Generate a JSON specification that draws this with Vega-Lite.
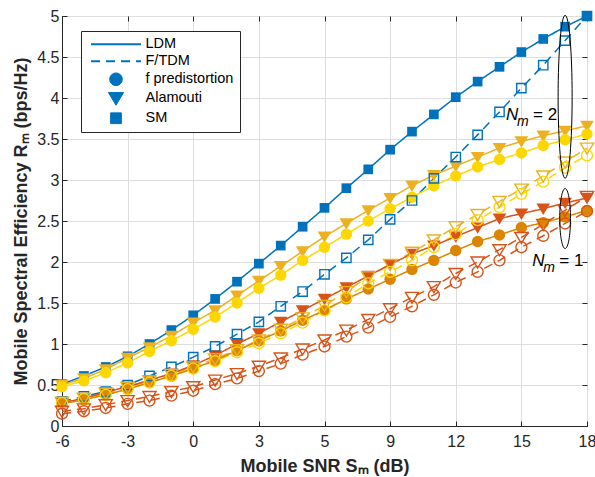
{
  "$schema": "https://vega.github.io/schema/vega-lite/v6.json",
  "width": 525,
  "height": 410,
  "autosize": {"type": "none"},
  "padding": {"left": 62, "top": 16, "right": 8, "bottom": 51},
  "background": "white",
  "config": {
    "font": "Liberation Sans",
    "view": {"stroke": "#262626", "strokeWidth": 1},
    "axis": {
      "labelFont": "Liberation Sans", "labelFontSize": 16, "labelColor": "#262626",
      "titleFont": "Liberation Sans", "titleFontSize": 18, "titleFontWeight": "bold", "titleColor": "#262626",
      "domainColor": "#262626", "tickColor": "#262626", "gridColor": "#dedede", "gridWidth": 1, "labelFlush": false
    }
  },
  "datasets": {
    "meta": [
      {"series": "LDM SM", "method": "LDM", "scheme": "SM"},
      {"series": "F/TDM SM", "method": "F/TDM", "scheme": "SM"},
      {"series": "LDM Alamouti Nm=2", "method": "LDM", "scheme": "Alamouti"},
      {"series": "LDM fpre Nm=2", "method": "LDM", "scheme": "f predistortion"},
      {"series": "F/TDM Alamouti Nm=2", "method": "F/TDM", "scheme": "Alamouti"},
      {"series": "F/TDM fpre Nm=2", "method": "F/TDM", "scheme": "f predistortion"},
      {"series": "LDM Alamouti Nm=1", "method": "LDM", "scheme": "Alamouti"},
      {"series": "LDM fpre Nm=1", "method": "LDM", "scheme": "f predistortion"},
      {"series": "F/TDM Alamouti Nm=1", "method": "F/TDM", "scheme": "Alamouti"},
      {"series": "F/TDM fpre Nm=1", "method": "F/TDM", "scheme": "f predistortion"}
    ],
    "vals": [
      {"snr": -6, "LDM SM": 0.51, "F/TDM SM": 0.30, "LDM Alamouti Nm=2": 0.50, "LDM fpre Nm=2": 0.48, "F/TDM Alamouti Nm=2": 0.29, "F/TDM fpre Nm=2": 0.28, "LDM Alamouti Nm=1": 0.28, "LDM fpre Nm=1": 0.27, "F/TDM Alamouti Nm=1": 0.18, "F/TDM fpre Nm=1": 0.15},
      {"snr": -5, "LDM SM": 0.61, "F/TDM SM": 0.36, "LDM Alamouti Nm=2": 0.58, "LDM fpre Nm=2": 0.55, "F/TDM Alamouti Nm=2": 0.34, "F/TDM fpre Nm=2": 0.33, "LDM Alamouti Nm=1": 0.34, "LDM fpre Nm=1": 0.32, "F/TDM Alamouti Nm=1": 0.21, "F/TDM fpre Nm=1": 0.18},
      {"snr": -4, "LDM SM": 0.72, "F/TDM SM": 0.42, "LDM Alamouti Nm=2": 0.69, "LDM fpre Nm=2": 0.65, "F/TDM Alamouti Nm=2": 0.40, "F/TDM fpre Nm=2": 0.38, "LDM Alamouti Nm=1": 0.41, "LDM fpre Nm=1": 0.38, "F/TDM Alamouti Nm=1": 0.26, "F/TDM fpre Nm=1": 0.22},
      {"snr": -3, "LDM SM": 0.85, "F/TDM SM": 0.50, "LDM Alamouti Nm=2": 0.83, "LDM fpre Nm=2": 0.77, "F/TDM Alamouti Nm=2": 0.47, "F/TDM fpre Nm=2": 0.45, "LDM Alamouti Nm=1": 0.48, "LDM fpre Nm=1": 0.45, "F/TDM Alamouti Nm=1": 0.31, "F/TDM fpre Nm=1": 0.27},
      {"snr": -2, "LDM SM": 1.00, "F/TDM SM": 0.61, "LDM Alamouti Nm=2": 0.96, "LDM fpre Nm=2": 0.91, "F/TDM Alamouti Nm=2": 0.55, "F/TDM fpre Nm=2": 0.53, "LDM Alamouti Nm=1": 0.56, "LDM fpre Nm=1": 0.53, "F/TDM Alamouti Nm=1": 0.36, "F/TDM fpre Nm=1": 0.31},
      {"snr": -1, "LDM SM": 1.17, "F/TDM SM": 0.72, "LDM Alamouti Nm=2": 1.10, "LDM fpre Nm=2": 1.04, "F/TDM Alamouti Nm=2": 0.63, "F/TDM fpre Nm=2": 0.61, "LDM Alamouti Nm=1": 0.64, "LDM fpre Nm=1": 0.61, "F/TDM Alamouti Nm=1": 0.42, "F/TDM fpre Nm=1": 0.37},
      {"snr": 0, "LDM SM": 1.35, "F/TDM SM": 0.84, "LDM Alamouti Nm=2": 1.26, "LDM fpre Nm=2": 1.18, "F/TDM Alamouti Nm=2": 0.72, "F/TDM fpre Nm=2": 0.70, "LDM Alamouti Nm=1": 0.74, "LDM fpre Nm=1": 0.70, "F/TDM Alamouti Nm=1": 0.48, "F/TDM fpre Nm=1": 0.43},
      {"snr": 1, "LDM SM": 1.55, "F/TDM SM": 0.97, "LDM Alamouti Nm=2": 1.41, "LDM fpre Nm=2": 1.33, "F/TDM Alamouti Nm=2": 0.82, "F/TDM fpre Nm=2": 0.79, "LDM Alamouti Nm=1": 0.86, "LDM fpre Nm=1": 0.80, "F/TDM Alamouti Nm=1": 0.56, "F/TDM fpre Nm=1": 0.51},
      {"snr": 2, "LDM SM": 1.76, "F/TDM SM": 1.12, "LDM Alamouti Nm=2": 1.59, "LDM fpre Nm=2": 1.50, "F/TDM Alamouti Nm=2": 0.93, "F/TDM fpre Nm=2": 0.90, "LDM Alamouti Nm=1": 1.00, "LDM fpre Nm=1": 0.92, "F/TDM Alamouti Nm=1": 0.64, "F/TDM fpre Nm=1": 0.58},
      {"snr": 3, "LDM SM": 1.98, "F/TDM SM": 1.27, "LDM Alamouti Nm=2": 1.77, "LDM fpre Nm=2": 1.68, "F/TDM Alamouti Nm=2": 1.05, "F/TDM fpre Nm=2": 1.01, "LDM Alamouti Nm=1": 1.13, "LDM fpre Nm=1": 1.04, "F/TDM Alamouti Nm=1": 0.73, "F/TDM fpre Nm=1": 0.67},
      {"snr": 4, "LDM SM": 2.20, "F/TDM SM": 1.46, "LDM Alamouti Nm=2": 1.95, "LDM fpre Nm=2": 1.84, "F/TDM Alamouti Nm=2": 1.18, "F/TDM fpre Nm=2": 1.13, "LDM Alamouti Nm=1": 1.27, "LDM fpre Nm=1": 1.16, "F/TDM Alamouti Nm=1": 0.83, "F/TDM fpre Nm=1": 0.76},
      {"snr": 5, "LDM SM": 2.43, "F/TDM SM": 1.64, "LDM Alamouti Nm=2": 2.13, "LDM fpre Nm=2": 2.02, "F/TDM Alamouti Nm=2": 1.32, "F/TDM fpre Nm=2": 1.26, "LDM Alamouti Nm=1": 1.41, "LDM fpre Nm=1": 1.29, "F/TDM Alamouti Nm=1": 0.94, "F/TDM fpre Nm=1": 0.87},
      {"snr": 6, "LDM SM": 2.66, "F/TDM SM": 1.85, "LDM Alamouti Nm=2": 2.31, "LDM fpre Nm=2": 2.18, "F/TDM Alamouti Nm=2": 1.47, "F/TDM fpre Nm=2": 1.41, "LDM Alamouti Nm=1": 1.55, "LDM fpre Nm=1": 1.41, "F/TDM Alamouti Nm=1": 1.05, "F/TDM fpre Nm=1": 0.97},
      {"snr": 7, "LDM SM": 2.90, "F/TDM SM": 2.05, "LDM Alamouti Nm=2": 2.47, "LDM fpre Nm=2": 2.34, "F/TDM Alamouti Nm=2": 1.64, "F/TDM fpre Nm=2": 1.57, "LDM Alamouti Nm=1": 1.69, "LDM fpre Nm=1": 1.55, "F/TDM Alamouti Nm=1": 1.17, "F/TDM fpre Nm=1": 1.09},
      {"snr": 8, "LDM SM": 3.13, "F/TDM SM": 2.27, "LDM Alamouti Nm=2": 2.63, "LDM fpre Nm=2": 2.50, "F/TDM Alamouti Nm=2": 1.82, "F/TDM fpre Nm=2": 1.74, "LDM Alamouti Nm=1": 1.83, "LDM fpre Nm=1": 1.67, "F/TDM Alamouti Nm=1": 1.30, "F/TDM fpre Nm=1": 1.20},
      {"snr": 9, "LDM SM": 3.37, "F/TDM SM": 2.52, "LDM Alamouti Nm=2": 2.78, "LDM fpre Nm=2": 2.65, "F/TDM Alamouti Nm=2": 1.97, "F/TDM fpre Nm=2": 1.88, "LDM Alamouti Nm=1": 1.97, "LDM fpre Nm=1": 1.79, "F/TDM Alamouti Nm=1": 1.43, "F/TDM fpre Nm=1": 1.33},
      {"snr": 10, "LDM SM": 3.59, "F/TDM SM": 2.75, "LDM Alamouti Nm=2": 2.93, "LDM fpre Nm=2": 2.79, "F/TDM Alamouti Nm=2": 2.12, "F/TDM fpre Nm=2": 2.02, "LDM Alamouti Nm=1": 2.10, "LDM fpre Nm=1": 1.91, "F/TDM Alamouti Nm=1": 1.57, "F/TDM fpre Nm=1": 1.46},
      {"snr": 11, "LDM SM": 3.80, "F/TDM SM": 3.02, "LDM Alamouti Nm=2": 3.06, "LDM fpre Nm=2": 2.93, "F/TDM Alamouti Nm=2": 2.27, "F/TDM fpre Nm=2": 2.18, "LDM Alamouti Nm=1": 2.20, "LDM fpre Nm=1": 2.02, "F/TDM Alamouti Nm=1": 1.70, "F/TDM fpre Nm=1": 1.60},
      {"snr": 12, "LDM SM": 4.01, "F/TDM SM": 3.28, "LDM Alamouti Nm=2": 3.17, "LDM fpre Nm=2": 3.05, "F/TDM Alamouti Nm=2": 2.43, "F/TDM fpre Nm=2": 2.34, "LDM Alamouti Nm=1": 2.31, "LDM fpre Nm=1": 2.14, "F/TDM Alamouti Nm=1": 1.86, "F/TDM fpre Nm=1": 1.75},
      {"snr": 13, "LDM SM": 4.20, "F/TDM SM": 3.55, "LDM Alamouti Nm=2": 3.28, "LDM fpre Nm=2": 3.16, "F/TDM Alamouti Nm=2": 2.58, "F/TDM fpre Nm=2": 2.51, "LDM Alamouti Nm=1": 2.42, "LDM fpre Nm=1": 2.25, "F/TDM Alamouti Nm=1": 2.00, "F/TDM fpre Nm=1": 1.88},
      {"snr": 14, "LDM SM": 4.38, "F/TDM SM": 3.83, "LDM Alamouti Nm=2": 3.39, "LDM fpre Nm=2": 3.25, "F/TDM Alamouti Nm=2": 2.74, "F/TDM fpre Nm=2": 2.67, "LDM Alamouti Nm=1": 2.53, "LDM fpre Nm=1": 2.33, "F/TDM Alamouti Nm=1": 2.15, "F/TDM fpre Nm=1": 2.02},
      {"snr": 15, "LDM SM": 4.56, "F/TDM SM": 4.12, "LDM Alamouti Nm=2": 3.47, "LDM fpre Nm=2": 3.33, "F/TDM Alamouti Nm=2": 2.89, "F/TDM fpre Nm=2": 2.83, "LDM Alamouti Nm=1": 2.59, "LDM fpre Nm=1": 2.42, "F/TDM Alamouti Nm=1": 2.30, "F/TDM fpre Nm=1": 2.18},
      {"snr": 16, "LDM SM": 4.72, "F/TDM SM": 4.40, "LDM Alamouti Nm=2": 3.54, "LDM fpre Nm=2": 3.42, "F/TDM Alamouti Nm=2": 3.05, "F/TDM fpre Nm=2": 2.98, "LDM Alamouti Nm=1": 2.65, "LDM fpre Nm=1": 2.48, "F/TDM Alamouti Nm=1": 2.46, "F/TDM fpre Nm=1": 2.32},
      {"snr": 17, "LDM SM": 4.87, "F/TDM SM": 4.70, "LDM Alamouti Nm=2": 3.60, "LDM fpre Nm=2": 3.49, "F/TDM Alamouti Nm=2": 3.22, "F/TDM fpre Nm=2": 3.15, "LDM Alamouti Nm=1": 2.72, "LDM fpre Nm=1": 2.55, "F/TDM Alamouti Nm=1": 2.63, "F/TDM fpre Nm=1": 2.47},
      {"snr": 18, "LDM SM": 5.00, "F/TDM SM": 5.00, "LDM Alamouti Nm=2": 3.66, "LDM fpre Nm=2": 3.56, "F/TDM Alamouti Nm=2": 3.39, "F/TDM fpre Nm=2": 3.30, "LDM Alamouti Nm=1": 2.78, "LDM fpre Nm=1": 2.63, "F/TDM Alamouti Nm=1": 2.80, "F/TDM fpre Nm=1": 2.62}
    ],
    "ann": [
      {"x": 14.3, "y": 3.79, "rest": "= 2"},
      {"x": 15.5, "y": 2.01, "rest": "= 1"}
    ]
  },
  "layer": [
    {
      "data": {"name": "vals"},
      "transform": [
        {"fold": ["LDM SM", "F/TDM SM", "LDM Alamouti Nm=2", "LDM fpre Nm=2", "F/TDM Alamouti Nm=2", "F/TDM fpre Nm=2", "LDM Alamouti Nm=1", "LDM fpre Nm=1", "F/TDM Alamouti Nm=1", "F/TDM fpre Nm=1"], "as": ["series", "se"]},
        {"lookup": "series", "from": {"data": {"name": "meta"}, "key": "series", "fields": ["method", "scheme"]}}
      ],
      "mark": {"type": "line", "strokeWidth": 1.5},
      "encoding": {
        "x": {"field": "snr", "type": "quantitative", "scale": {"domain": [-6, 18], "nice": false},
          "axis": {"values": [-6, -3, 0, 3, 6, 9, 12, 15, 18], "labelExpr": "datum.value == 6 ? '5' : toString(datum.value)", "title": "Mobile SNR Sₘ (dB)", "grid": true, "tickSize": -5, "labelPadding": 12, "titlePadding": 8}},
        "y": {"field": "se", "type": "quantitative", "scale": {"domain": [0, 5], "nice": false},
          "axis": {"values": [0, 0.5, 1, 1.5, 2, 2.5, 3, 3.5, 4, 4.5, 5], "format": ".1~f", "title": "Mobile Spectral Efficiency Rₘ (bps/Hz)", "grid": true, "tickSize": -5, "labelPadding": 8, "titlePadding": 6}},
        "color": {"field": "series", "type": "nominal", "legend": null,
          "scale": {"domain": ["LDM SM", "F/TDM SM", "LDM Alamouti Nm=2", "LDM fpre Nm=2", "F/TDM Alamouti Nm=2", "F/TDM fpre Nm=2", "LDM Alamouti Nm=1", "LDM fpre Nm=1", "F/TDM Alamouti Nm=1", "F/TDM fpre Nm=1"],
                    "range": ["#0072BD", "#0072BD", "#EDB120", "#FFD700", "#EDB120", "#FFD700", "#D95319", "#DB8500", "#D95319", "#D95319"]}},
        "strokeDash": {"field": "method", "type": "nominal", "legend": null, "scale": {"domain": ["LDM", "F/TDM"], "range": [[1, 0], [9, 6]]}},
        "detail": {"field": "series"}
      }
    },
    {
      "data": {"name": "vals"},
      "transform": [
        {"fold": ["LDM SM", "F/TDM SM", "LDM Alamouti Nm=2", "LDM fpre Nm=2", "F/TDM Alamouti Nm=2", "F/TDM fpre Nm=2", "LDM Alamouti Nm=1", "LDM fpre Nm=1", "F/TDM Alamouti Nm=1", "F/TDM fpre Nm=1"], "as": ["series", "se"]},
        {"lookup": "series", "from": {"data": {"name": "meta"}, "key": "series", "fields": ["method", "scheme"]}},
        {"filter": "datum.method == 'LDM'"}
      ],
      "mark": {"type": "point", "filled": true, "size": 130, "opacity": 1},
      "encoding": {
        "x": {"field": "snr", "type": "quantitative", "scale": {"domain": [-6, 18], "nice": false},
          "axis": {"orient": "top", "values": [-6, -3, 0, 3, 6, 9, 12, 15, 18], "labels": false, "title": null, "grid": false, "domain": false, "tickSize": -5}},
        "y": {"field": "se", "type": "quantitative", "scale": {"domain": [0, 5], "nice": false},
          "axis": {"orient": "right", "values": [0, 0.5, 1, 1.5, 2, 2.5, 3, 3.5, 4, 4.5, 5], "labels": false, "title": null, "grid": false, "domain": false, "tickSize": -5}},
        "color": {"field": "series", "type": "nominal", "legend": null},
        "shape": {"field": "scheme", "type": "nominal",
          "scale": {"domain": ["LDM", "F/TDM", "f predistortion", "Alamouti", "SM"],
                    "range": ["M-1,0H1", "M-1,0H-0.64M-0.4,0H-0.04M0.2,0H0.56M0.8,0H1", "circle", "M-1.2,-0.9L1.2,-0.9L0,1.1Z", "M-0.85,-0.85H0.85V0.85H-0.85Z"]},
          "legend": {
            "orient": "none", "legendX": 19, "legendY": 15, "title": null,
            "strokeColor": "#262626", "fillColor": "white", "padding": 6,
            "labelFont": "Liberation Sans", "labelFontSize": 14.5, "labelColor": "#000000",
            "symbolFillColor": "#0072BD", "symbolStrokeColor": "#0072BD", "symbolOpacity": 1,
            "symbolStrokeWidth": 2, "labelOffset": 44, "rowPadding": 2,
            "encode": {"symbols": {"update": {
              "x": {"value": 29},
              "fill": {"value": "#0072BD"}, "stroke": {"value": "#0072BD"}, "opacity": {"value": 1},
              "size": {"signal": "indexof(['LDM','F/TDM'], datum.value) >= 0 ? 2500 : 160"},
              "strokeWidth": {"signal": "indexof(['LDM','F/TDM'], datum.value) >= 0 ? 2.2 : 1"}
            }}}
          }}
      }
    },
    {
      "data": {"name": "vals"},
      "transform": [
        {"fold": ["LDM SM", "F/TDM SM", "LDM Alamouti Nm=2", "LDM fpre Nm=2", "F/TDM Alamouti Nm=2", "F/TDM fpre Nm=2", "LDM Alamouti Nm=1", "LDM fpre Nm=1", "F/TDM Alamouti Nm=1", "F/TDM fpre Nm=1"], "as": ["series", "se"]},
        {"lookup": "series", "from": {"data": {"name": "meta"}, "key": "series", "fields": ["method", "scheme"]}},
        {"filter": "datum.method == 'F/TDM'"}
      ],
      "mark": {"type": "point", "filled": false, "size": 120, "strokeWidth": 1.4, "opacity": 1},
      "encoding": {
        "x": {"field": "snr", "type": "quantitative", "axis": null},
        "y": {"field": "se", "type": "quantitative", "axis": null},
        "color": {"field": "series", "type": "nominal", "legend": null},
        "shape": {"field": "scheme", "type": "nominal", "legend": null}
      }
    },
    {
      "data": {"values": [{"x": 17, "y": 4.015}]},
      "mark": {"type": "point", "shape": "M0,-1A0.086,1 0 1,1 0,1A0.086,1 0 1,1 0,-1Z", "size": 26569, "filled": false, "stroke": "#000000", "strokeWidth": 1, "opacity": 1},
      "encoding": {
        "x": {"field": "x", "type": "quantitative", "axis": null},
        "y": {"field": "y", "type": "quantitative", "axis": null}
      }
    },
    {
      "data": {"values": [{"x": 17, "y": 2.53}]},
      "mark": {"type": "point", "shape": "M0,-1A0.18,1 0 1,1 0,1A0.18,1 0 1,1 0,-1Z", "size": 3600, "filled": false, "stroke": "#000000", "strokeWidth": 1, "opacity": 1},
      "encoding": {
        "x": {"field": "x", "type": "quantitative", "axis": null},
        "y": {"field": "y", "type": "quantitative", "axis": null}
      }
    },
    {
      "data": {"name": "ann"},
      "mark": {"type": "text", "text": "N", "font": "Liberation Sans", "fontStyle": "italic", "fontSize": 17, "align": "left", "baseline": "middle", "color": "#000000"},
      "encoding": {
        "x": {"field": "x", "type": "quantitative", "axis": null},
        "y": {"field": "y", "type": "quantitative", "axis": null}
      }
    },
    {
      "data": {"name": "ann"},
      "mark": {"type": "text", "text": "m", "font": "Liberation Sans", "fontStyle": "italic", "fontSize": 14, "align": "left", "baseline": "middle", "dx": 11, "dy": 7, "color": "#000000"},
      "encoding": {
        "x": {"field": "x", "type": "quantitative", "axis": null},
        "y": {"field": "y", "type": "quantitative", "axis": null}
      }
    },
    {
      "data": {"name": "ann"},
      "mark": {"type": "text", "font": "Liberation Sans", "fontSize": 17, "align": "left", "baseline": "middle", "dx": 27, "color": "#000000"},
      "encoding": {
        "x": {"field": "x", "type": "quantitative", "axis": null},
        "y": {"field": "y", "type": "quantitative", "axis": null},
        "text": {"field": "rest"}
      }
    }
  ],
  "resolve": {"axis": {"x": "independent", "y": "independent"}}
}
